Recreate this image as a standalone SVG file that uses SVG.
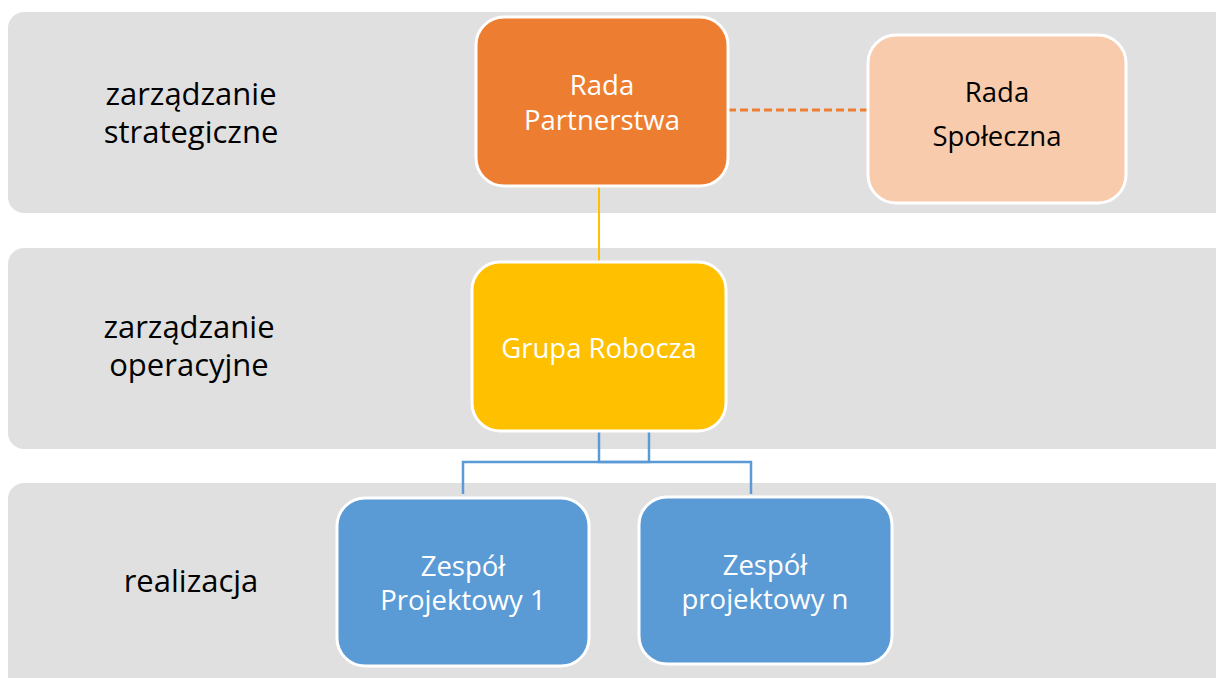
<svg xmlns="http://www.w3.org/2000/svg" width="1216" height="678" viewBox="0 0 1216 678">
<style>
.band{fill:#E0E0E0}
.node{stroke:#FFFFFF;stroke-width:3}
text{font-family:"Open Sans","Noto Sans",sans-serif;font-size:27.5px;text-anchor:middle}
.lbl{font-size:31px;fill:#000}
.w{fill:#FFFFFF}
.k{fill:#000}
</style>
<rect class="band" x="8" y="12" width="1230" height="201" rx="16"/>
<rect class="band" x="8" y="248" width="1230" height="201" rx="16"/>
<rect class="band" x="8" y="483" width="1230" height="215" rx="16"/>
<text class="lbl" x="191" y="105">zarządzanie</text>
<text class="lbl" x="191" y="143">strategiczne</text>
<text class="lbl" x="189" y="338">zarządzanie</text>
<text class="lbl" x="189" y="376">operacyjne</text>
<text class="lbl" x="191" y="592">realizacja</text>
<g id="connectors" fill="none">
<line x1="728" y1="110" x2="868" y2="110" stroke="#ED7D31" stroke-width="3" stroke-dasharray="8,4"/>
<line x1="599" y1="186" x2="599" y2="262" stroke="#FFC000" stroke-width="2"/>
<polyline points="599,431 599,462 751,462 751,494" stroke="#5B9BD5" stroke-width="2.5"/>
<polyline points="649,431 649,462 463,462 463,494" stroke="#5B9BD5" stroke-width="2.5"/>
</g>
<g id="rada-partnerstwa">
<rect class="node" x="476" y="17" width="252" height="169" rx="28" fill="#ED7D31"/>
<text class="w" x="602" y="95">Rada</text>
<text class="w" x="602" y="130">Partnerstwa</text>
</g>
<g id="rada-spoleczna">
<rect class="node" x="868" y="35" width="258" height="168" rx="28" fill="#F8CBAD"/>
<text class="k" x="997" y="102">Rada</text>
<text class="k" x="997" y="146">Społeczna</text>
</g>
<g id="grupa-robocza">
<rect class="node" x="472" y="262" width="254" height="169" rx="28" fill="#FFC000"/>
<text class="w" x="599" y="358">Grupa Robocza</text>
</g>
<g id="zespol-1">
<rect class="node" x="337" y="498" width="252" height="168" rx="28" fill="#5B9BD5"/>
<text class="w" x="463" y="576">Zespół</text>
<text class="w" x="463" y="610">Projektowy 1</text>
</g>
<g id="zespol-n">
<rect class="node" x="639" y="497" width="253" height="167" rx="28" fill="#5B9BD5"/>
<text class="w" x="765" y="575">Zespół</text>
<text class="w" x="765" y="609">projektowy n</text>
</g>
</svg>
